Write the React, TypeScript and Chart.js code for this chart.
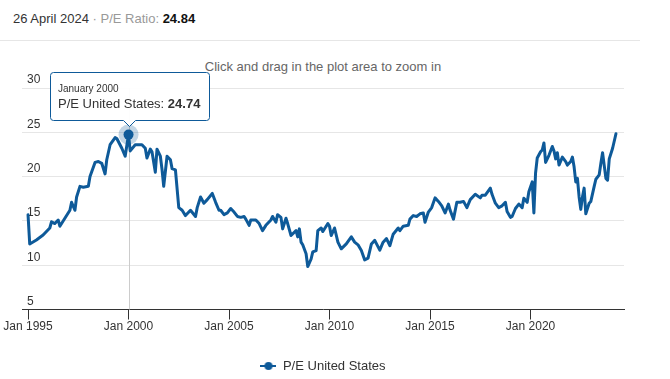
import React, { useEffect, useRef } from "react";
import { Chart, registerables } from "chart.js";

Chart.register(...registerables);

// ---------- data ----------
const months: string[] = [
  "1995-01", "1995-02", "1995-06", "1995-10", "1996-02", "1996-03", "1996-05", "1996-07", "1996-08", "1996-11",
  "1997-02", "1997-03", "1997-05", "1997-06", "1997-08", "1997-10", "1998-01", "1998-02", "1998-05", "1998-07",
  "1998-09", "1998-11", "1998-12", "1999-02", "1999-05", "1999-06", "1999-09", "1999-11", "2000-01", "2000-02",
  "2000-05", "2000-09", "2000-11", "2000-12", "2001-02", "2001-03", "2001-05", "2001-06", "2001-08", "2001-09",
  "2001-10", "2001-12", "2002-02", "2002-03", "2002-05", "2002-07", "2002-09", "2002-11", "2003-01", "2003-02",
  "2003-05", "2003-06", "2003-08", "2003-10", "2003-12", "2004-03", "2004-05", "2004-07", "2004-08", "2004-10",
  "2004-12", "2005-02", "2005-04", "2005-06", "2005-08", "2005-10", "2005-11", "2006-01", "2006-02", "2006-05",
  "2006-07", "2006-09", "2006-11", "2007-02", "2007-03", "2007-05", "2007-06", "2007-08", "2007-09", "2007-11",
  "2007-12", "2008-02", "2008-05", "2008-06", "2008-07", "2008-08", "2008-09", "2008-11", "2008-12", "2009-02",
  "2009-03", "2009-05", "2009-06", "2009-08", "2009-09", "2009-12", "2010-01", "2010-02", "2010-04", "2010-06",
  "2010-08", "2010-11", "2011-02", "2011-04", "2011-06", "2011-08", "2011-10", "2011-12", "2012-02", "2012-04",
  "2012-07", "2012-09", "2012-11", "2013-01", "2013-03", "2013-06", "2013-07", "2013-09", "2013-12", "2014-01",
  "2014-03", "2014-05", "2014-07", "2014-09", "2014-10", "2014-12", "2015-02", "2015-04", "2015-06", "2015-08",
  "2015-10", "2015-12", "2016-01", "2016-03", "2016-05", "2016-07", "2016-09", "2016-11", "2017-01", "2017-04",
  "2017-07", "2017-08", "2017-10", "2018-01", "2018-02", "2018-04", "2018-06", "2018-08", "2018-10", "2018-11",
  "2019-01", "2019-02", "2019-04", "2019-06", "2019-08", "2019-09", "2019-11", "2019-12", "2020-02", "2020-03",
  "2020-04", "2020-05", "2020-07", "2020-08", "2020-09", "2020-10", "2020-12", "2021-02", "2021-03", "2021-04",
  "2021-05", "2021-06", "2021-08", "2021-10", "2021-11", "2022-01", "2022-02", "2022-03", "2022-04", "2022-05",
  "2022-06", "2022-07", "2022-08", "2022-09", "2022-10", "2022-12", "2023-01", "2023-03", "2023-04", "2023-06",
  "2023-07", "2023-08", "2023-10", "2023-11", "2023-12", "2024-02", "2024-04",
];

const peValues: number[] = [
  15.7, 12.4, 12.85, 13.4, 14.2, 14.9, 14.7, 15.1, 14.4, 15.3,
  16.2, 17.1, 16.2, 17.7, 18.9, 18.8, 18.9, 20.0, 21.6, 21.7,
  21.5, 20.3, 21.9, 23.6, 24.4, 24.3, 23.2, 22.3, 24.74, 22.9,
  23.6, 23.6, 23.2, 22.1, 23.1, 22.8, 20.5, 23.1, 22.3, 20.8,
  18.9, 22.3, 21.9, 20.9, 20.75, 16.5, 16.2, 15.6, 16.0, 16.2,
  15.5, 16.5, 17.7, 17.0, 17.4, 18.1, 17.1, 16.2, 16.2, 15.7,
  15.9, 16.4, 16.0, 15.5, 15.4, 15.5, 15.2, 14.5, 15.1, 15.1,
  14.7, 13.9, 14.5, 15.1, 15.5, 14.85, 15.7, 15.4, 14.1, 15.3,
  14.7, 13.35, 13.9, 13.2, 14.1, 12.6, 12.3, 11.3, 9.85, 10.7,
  11.5, 11.65, 13.9, 14.2, 13.8, 14.7, 14.4, 13.35, 14.2, 12.6,
  11.85, 12.4, 13.2, 12.6, 12.3, 11.65, 10.6, 10.8, 12.4, 12.8,
  11.7, 12.6, 13.0, 12.2, 13.5, 14.2, 13.9, 14.4, 14.5, 15.2,
  15.6, 15.5, 15.8, 15.9, 14.85, 16.0, 16.5, 17.6, 17.2, 16.7,
  15.9, 16.9, 16.2, 15.2, 17.1, 17.1, 17.2, 16.5, 17.4, 18.0,
  17.6, 17.9, 17.9, 18.7, 18.0, 17.0, 16.5, 16.7, 17.1, 16.05,
  15.4, 15.5, 16.4, 16.9, 16.5, 17.55, 17.1, 18.3, 19.4, 15.9,
  20.4, 22.1, 22.8, 23.0, 23.8, 21.6, 22.4, 23.4, 22.9, 22.0,
  22.7, 21.3, 22.2, 21.7, 21.3, 21.7, 22.2, 21.1, 19.4, 19.8,
  17.7, 16.3, 17.7, 18.7, 15.8, 17.0, 17.2, 18.9, 19.7, 20.2,
  21.5, 22.7, 19.8, 19.6, 22.0, 23.2, 24.84,
];

const xTickYears: number[] = [1995, 2000, 2005, 2010, 2015, 2020];
const yTickValues: number[] = [5, 10, 15, 20, 25, 30];
const monthNames: string[] = [
  "January", "February", "March", "April", "May", "June",
  "July", "August", "September", "October", "November", "December",
];
const seriesName = "P/E United States";
const headerDate = "26 April 2024";
const headerLabel = "P/E Ratio:";
const subtitleText = "Click and drag in the plot area to zoom in";
const highlightMonth = "2000-01";

// ---------- styles ----------
const BLUE = "#0e5a99";
const FONT = "'Liberation Sans', Arial, Helvetica, sans-serif";

function toYear(m: string): number {
  const [y, mo] = m.split("-").map(Number);
  return y + (mo - 1) / 12;
}

const hoverPlugin = {
  id: "hoverPlugin",
  beforeDatasetsDraw(chart: any) {
    const idx = months.indexOf(highlightMonth);
    const el = chart.getDatasetMeta(0).data[idx];
    if (!el) return;
    const { ctx, chartArea } = chart;
    ctx.save();
    ctx.strokeStyle = "#cccccc";
    ctx.lineWidth = 1;
    const x = Math.round(el.x) + 0.5;
    ctx.beginPath();
    ctx.moveTo(x, chartArea.top);
    ctx.lineTo(x, chartArea.bottom);
    ctx.stroke();
    ctx.restore();
  },
  afterDraw(chart: any) {
    const idx = months.indexOf(highlightMonth);
    const el = chart.getDatasetMeta(0).data[idx];
    if (!el) return;
    const { ctx } = chart;
    const px = el.x;
    const py = el.y;
    ctx.save();
    // halo + marker
    ctx.beginPath();
    ctx.arc(px, py, 10, 0, Math.PI * 2);
    ctx.fillStyle = "rgba(14,90,153,0.25)";
    ctx.fill();
    ctx.beginPath();
    ctx.arc(px, py, 5, 0, Math.PI * 2);
    ctx.fillStyle = BLUE;
    ctx.fill();

    // tooltip texts
    const [yy, mm] = highlightMonth.split("-").map(Number);
    const title = `${monthNames[mm - 1]} ${yy}`;
    const label = `${seriesName}: `;
    const val = peValues[idx].toFixed(2);
    ctx.font = `13px ${FONT}`;
    const w1 = ctx.measureText(label).width;
    ctx.font = `bold 13px ${FONT}`;
    const w2 = ctx.measureText(val).width;
    ctx.font = `10px ${FONT}`;
    const wt = ctx.measureText(title).width;
    const contentW = Math.max(w1 + w2, wt);
    const boxW = Math.round(contentW + 17);
    const boxH = 48;
    const left = Math.round(px - boxW / 2 + 1) + 0.5;
    const bottom = Math.round(py - 15) + 0.5;
    const top = bottom - boxH;
    const right = left + boxW;
    const r = 3;
    const cx = Math.round(px) + 0.5;

    ctx.beginPath();
    ctx.moveTo(left + r, top);
    ctx.lineTo(right - r, top);
    ctx.arcTo(right, top, right, top + r, r);
    ctx.lineTo(right, bottom - r);
    ctx.arcTo(right, bottom, right - r, bottom, r);
    ctx.lineTo(cx + 6, bottom);
    ctx.lineTo(cx, bottom + 6);
    ctx.lineTo(cx - 6, bottom);
    ctx.lineTo(left + r, bottom);
    ctx.arcTo(left, bottom, left, bottom - r, r);
    ctx.lineTo(left, top + r);
    ctx.arcTo(left, top, left + r, top, r);
    ctx.closePath();
    ctx.fillStyle = "rgba(255,255,255,0.96)";
    ctx.fill();
    ctx.strokeStyle = BLUE;
    ctx.lineWidth = 1;
    ctx.stroke();

    ctx.textBaseline = "middle";
    ctx.textAlign = "left";
    ctx.fillStyle = "#333333";
    ctx.font = `10px ${FONT}`;
    ctx.fillText(title, left + 7.5, top + 17);
    ctx.font = `13px ${FONT}`;
    ctx.fillText(label, left + 7.5, top + 32);
    ctx.font = `bold 13px ${FONT}`;
    ctx.fillText(val, left + 7.5 + w1, top + 32);
    ctx.restore();
  },
};

export default function App() {
  const canvasRef = useRef<HTMLCanvasElement | null>(null);

  useEffect(() => {
    document.body.style.margin = "0";
    const canvas = canvasRef.current;
    if (!canvas) return;

    const sym = document.createElement("canvas");
    sym.width = 16;
    sym.height = 10;
    const sctx = sym.getContext("2d");
    if (sctx) {
      sctx.strokeStyle = BLUE;
      sctx.lineWidth = 2;
      sctx.beginPath();
      sctx.moveTo(0, 5);
      sctx.lineTo(16, 5);
      sctx.stroke();
      sctx.beginPath();
      sctx.arc(8, 5, 4, 0, Math.PI * 2);
      sctx.fillStyle = BLUE;
      sctx.fill();
    }

    const chart = new Chart(canvas, {
      type: "line",
      data: {
        datasets: [
          {
            label: seriesName,
            data: months.map((m, i) => ({ x: toYear(m), y: peValues[i] })),
            borderColor: BLUE,
            backgroundColor: BLUE,
            borderWidth: 3,
            pointRadius: 0,
            pointHoverRadius: 0,
            tension: 0,
            fill: false,
            borderJoinStyle: "round",
            borderCapStyle: "round",
          } as any,
        ],
      },
      plugins: [hoverPlugin],
      options: {
        responsive: false,
        animation: false,
        devicePixelRatio: 1,
        events: [],
        layout: { padding: { left: 22, right: 46, top: 88, bottom: 0 } },
        scales: {
          x: {
            type: "linear",
            min: 1994.7,
            max: 2024.65,
            afterBuildTicks: (s: any) => {
              s.ticks = xTickYears.map((v) => ({ value: v }));
            },
            afterFit: (s: any) => {
              s.height = 44;
              s.paddingLeft = 0;
              s.paddingRight = 0;
            },
            grid: {
              drawOnChartArea: false,
              drawTicks: true,
              tickLength: 10,
              color: "#333333",
            },
            border: { display: true, color: "#333333", width: 1 },
            ticks: {
              callback: (v: any) => "Jan " + v,
              padding: 0,
              maxRotation: 0,
              autoSkip: false,
              color: "#333333",
              font: { size: 12, family: FONT },
            },
          },
          y: {
            min: 5,
            max: 30,
            afterBuildTicks: (s: any) => {
              s.ticks = yTickValues.map((v) => ({ value: v }));
            },
            afterFit: (s: any) => {
              s.width = 0;
              s.paddingTop = 0;
              s.paddingBottom = 0;
              s.paddingLeft = 0;
              s.paddingRight = 0;
            },
            grid: { color: "#e6e6e6", drawTicks: false, lineWidth: 1 },
            border: { display: false },
            ticks: {
              mirror: true,
              padding: 5,
              labelOffset: -8,
              color: "#333333",
              font: { size: 12, family: FONT },
            },
          },
        },
        plugins: {
          tooltip: { enabled: false },
          legend: {
            position: "bottom",
            maxHeight: 25.5,
            labels: {
              usePointStyle: true,
              pointStyle: sym as any,
              pointStyleWidth: 16,
              padding: 6,
              color: "#333333",
              font: { size: 13, family: FONT },
            },
          },
        },
      } as any,
    });

    return () => chart.destroy();
  }, []);

  return (
    <div style={{ position: "relative", width: 670, height: 379, background: "#fff", fontFamily: FONT }}>
      <div
        style={{
          position: "absolute",
          left: 13,
          top: 10.5,
          fontSize: 13,
          lineHeight: "15px",
          whiteSpace: "nowrap",
          color: "#333333",
        }}
      >
        <span>{headerDate}</span>
        <span style={{ color: "#999999" }}> · {headerLabel} </span>
        <span style={{ fontWeight: "bold", color: "#111111" }}>{peValues[peValues.length - 1].toFixed(2)}</span>
      </div>
      <div
        style={{
          position: "absolute",
          left: 0,
          top: 40,
          width: 640,
          height: 1,
          background: "#e6e6e6",
        }}
      />
      <div
        style={{
          position: "absolute",
          left: 22,
          width: 602,
          top: 58.5,
          fontSize: 13,
          lineHeight: "15px",
          textAlign: "center",
          color: "#666666",
          whiteSpace: "nowrap",
        }}
      >
        {subtitleText}
      </div>
      <canvas
        ref={canvasRef}
        width={670}
        height={379}
        style={{ position: "absolute", left: 0, top: 0, width: 670, height: 379, display: "block" }}
      />
    </div>
  );
}
